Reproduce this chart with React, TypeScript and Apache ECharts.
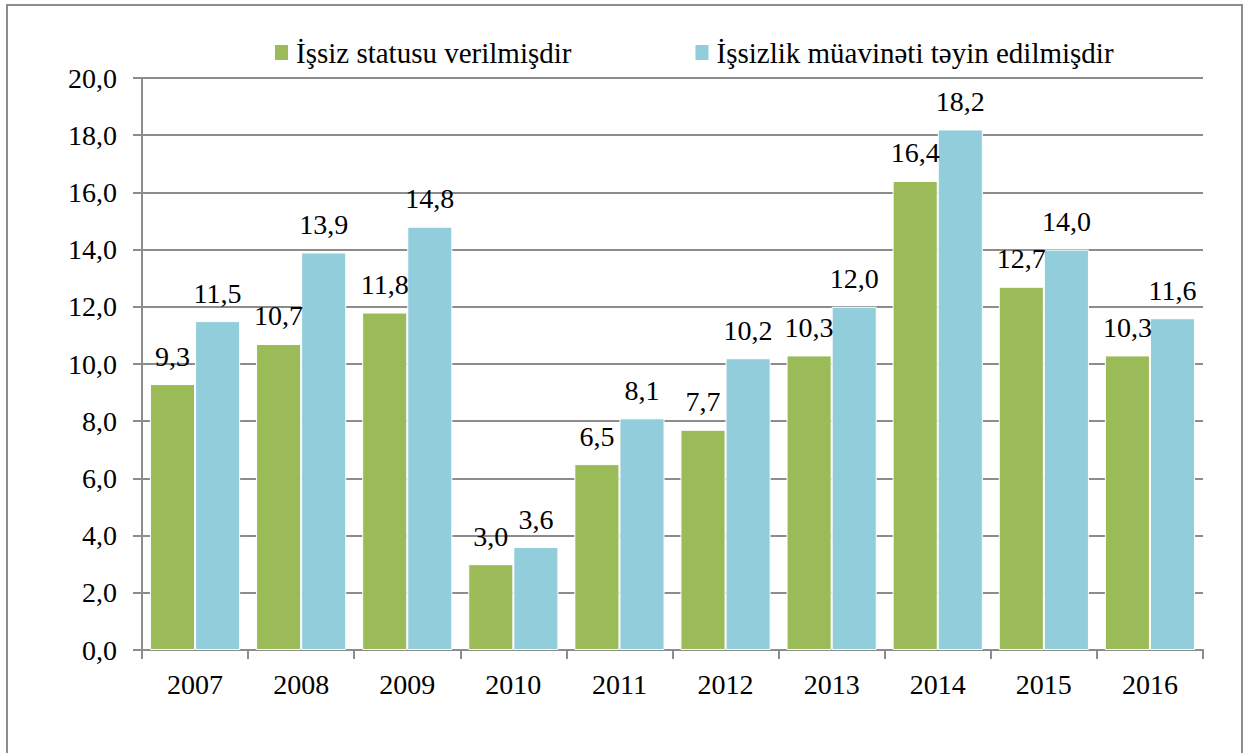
import React, { useEffect, useRef } from "react";
import * as echarts from "echarts";

const categories = ["2007", "2008", "2009", "2010", "2011", "2012", "2013", "2014", "2015", "2016"];
const statusValues = [9.3, 10.7, 11.8, 3.0, 6.5, 7.7, 10.3, 16.4, 12.7, 10.3];
const benefitValues = [11.5, 13.9, 14.8, 3.6, 8.1, 10.2, 12.0, 18.2, 14.0, 11.6];
const seriesNames = ["İşsiz statusu verilmişdir", "İşsizlik müavinəti təyin edilmişdir"];

const fmt = (v: number) => v.toFixed(1).replace(".", ",");
const FONT = "Liberation Serif";
const FS = 28;

export default function App() {
  const ref = useRef<HTMLDivElement>(null);
  useEffect(() => {
    const chart = echarts.init(ref.current!, null, { renderer: "svg" });
    const labelStyle = {
      show: true,
      position: "top",
      distance: 14,
      fontFamily: FONT,
      fontSize: FS,
      color: "#000",
      formatter: (p: any) => fmt(p.value),
    };
    chart.setOption({
      animation: false,
      textStyle: { fontFamily: FONT },
      graphic: [
        {
          type: "rect",
          shape: { x: 7, y: 5, width: 1235, height: 770 },
          style: { fill: "none", stroke: "#8c8c8c", lineWidth: 2 },
          silent: true,
        },
      ],
      legend: {
        top: 33,
        left: 268,
        itemWidth: 15,
        itemHeight: 17,
        itemGap: 122,
        icon: "rect",
        textStyle: { fontFamily: FONT, fontSize: 29, color: "#000", padding: [0, 0, 0, 2] },
        data: seriesNames,
      },
      grid: { left: 142, right: 45, top: 78, bottom: 103, containLabel: false },
      xAxis: {
        type: "category",
        data: categories,
        axisLine: { show: true, lineStyle: { color: "#8c8c8c", width: 2 } },
        axisTick: { show: true, length: 9, lineStyle: { color: "#8c8c8c", width: 2 } },
        axisLabel: { fontFamily: FONT, fontSize: FS, color: "#000", margin: 20 },
      },
      yAxis: {
        type: "value",
        min: 0,
        max: 20,
        interval: 2,
        axisLine: { show: true, lineStyle: { color: "#8c8c8c", width: 2 } },
        axisTick: { show: true, length: 9, lineStyle: { color: "#8c8c8c", width: 2 } },
        splitLine: { show: true, lineStyle: { color: "#8c8c8c", width: 2 } },
        axisLabel: { fontFamily: FONT, fontSize: FS, color: "#000", margin: 25, formatter: (v: number) => fmt(v) },
      },
      series: [
        {
          name: seriesNames[0],
          type: "bar",
          data: statusValues,
          barGap: "0%",
          barCategoryGap: "15%",
          itemStyle: { color: "#9BBB59", borderColor: "#fff", borderWidth: 1 },
          label: labelStyle,
        },
        {
          name: seriesNames[1],
          type: "bar",
          data: benefitValues,
          itemStyle: { color: "#92CDDC", borderColor: "#fff", borderWidth: 1 },
          label: labelStyle,
        },
      ],
    });
    return () => chart.dispose();
  }, []);
  return (
    <div
      ref={ref}
      style={{ position: "fixed", left: 0, top: 0, width: 1248, height: 753, background: "#fff" }}
    />
  );
}
